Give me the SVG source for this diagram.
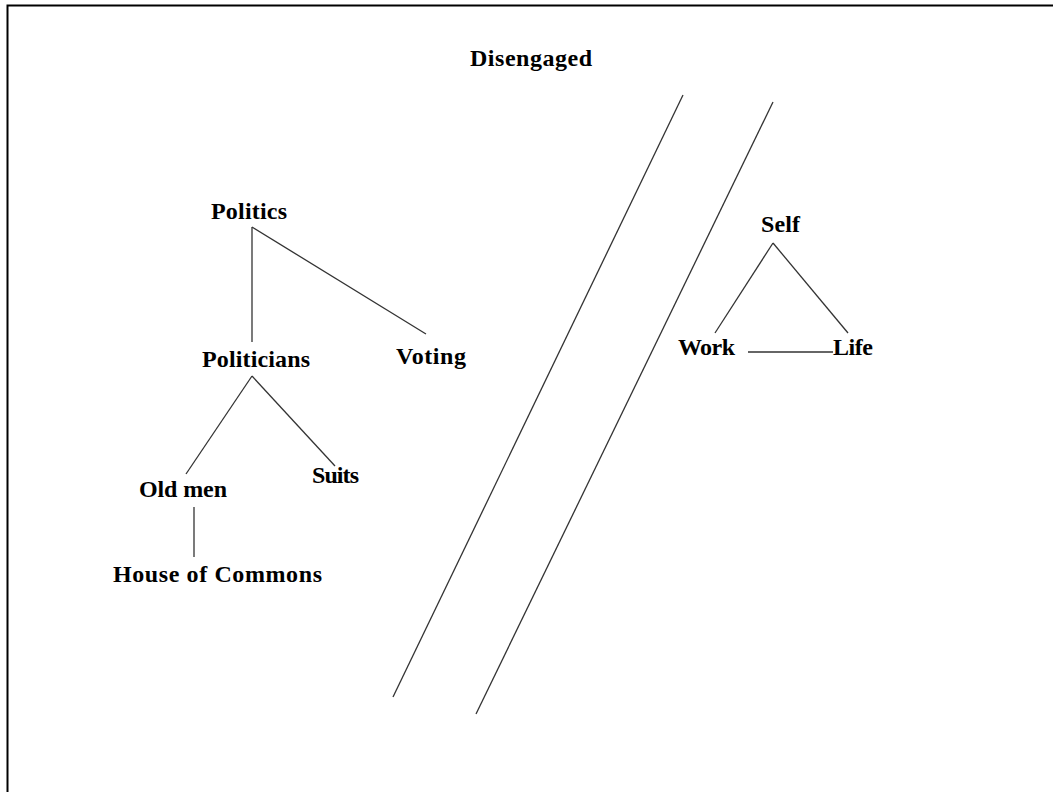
<svg xmlns="http://www.w3.org/2000/svg" width="1053" height="792" viewBox="0 0 1053 792">
<style>
text { font-family: "Liberation Serif", "Times New Roman", serif; font-weight: bold; font-size: 24px; fill: #000; }
.c { stroke: #333; stroke-width: 1.3; fill: none; }
.frame { stroke: #000; stroke-width: 2; fill: none; }
</style>
<rect width="1053" height="792" fill="#fff"/>
<path class="frame" d="M7.5,792 V5.5 H1053"/>
<g id="title"><text x="470" y="66" textLength="122" lengthAdjust="spacing">Disengaged</text></g>
<g id="divider">
<line class="c" x1="683" y1="95" x2="393" y2="697"/>
<line class="c" x1="773" y1="102" x2="476" y2="714"/>
</g>
<g id="connectors">
<line class="c" x1="252" y1="227" x2="252" y2="342"/>
<line class="c" x1="252" y1="227" x2="426" y2="334"/>
<line class="c" x1="252" y1="376" x2="186" y2="474"/>
<line class="c" x1="252" y1="376" x2="335" y2="466"/>
<line class="c" x1="194" y1="507" x2="194" y2="557"/>
<line class="c" x1="773" y1="243" x2="715" y2="333"/>
<line class="c" x1="773" y1="243" x2="848" y2="333"/>
<line class="c" x1="748" y1="352" x2="833" y2="352"/>
</g>
<g id="politics"><text x="211" y="219" textLength="76" lengthAdjust="spacing">Politics</text></g>
<g id="politicians"><text x="202" y="367" textLength="108" lengthAdjust="spacing">Politicians</text></g>
<g id="voting"><text x="396" y="364" textLength="70" lengthAdjust="spacing">Voting</text></g>
<g id="oldmen"><text x="139" y="497" textLength="88" lengthAdjust="spacing">Old men</text></g>
<g id="suits"><text x="312" y="483" textLength="47" lengthAdjust="spacing">Suits</text></g>
<g id="commons"><text x="113" y="582" textLength="209" lengthAdjust="spacing">House of Commons</text></g>
<g id="self"><text x="761" y="232" textLength="39" lengthAdjust="spacing">Self</text></g>
<g id="work"><text x="678" y="355" textLength="57" lengthAdjust="spacing">Work</text></g>
<g id="life"><text x="833" y="355" textLength="40" lengthAdjust="spacing">Life</text></g>
</svg>
